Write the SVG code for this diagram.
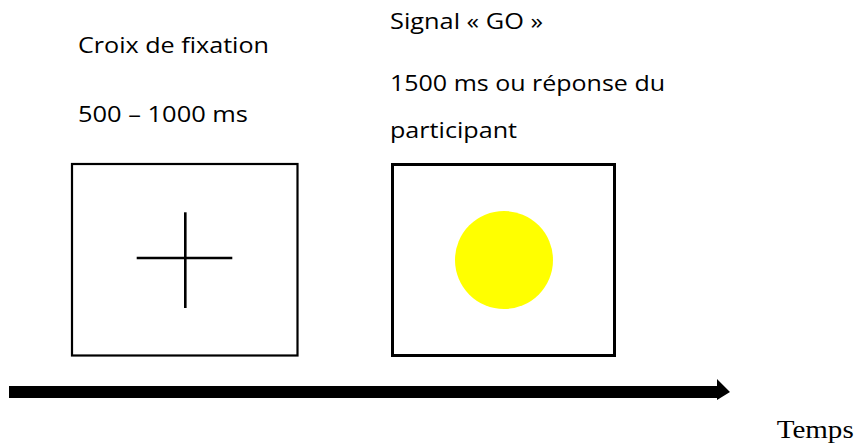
<svg xmlns="http://www.w3.org/2000/svg" width="858" height="447" viewBox="0 0 858 447">
<style>
.lbl{font-family:"Open Sans","Noto Sans",sans-serif;font-size:22px;fill:#000}
.box{fill:#fff;stroke:#000}
</style>
<rect width="858" height="447" fill="#fff"/>
<g id="fixation">
<text class="lbl" x="78" y="53.3" textLength="191" lengthAdjust="spacingAndGlyphs">Croix de fixation</text>
<text class="lbl" x="78" y="121.7" textLength="170" lengthAdjust="spacingAndGlyphs">500 – 1000 ms</text>
<rect class="box" x="72" y="164" width="225.5" height="191.5" stroke-width="2.2"/>
<line x1="136.7" y1="258" x2="232.3" y2="258" stroke="#000" stroke-width="2.6"/>
<line x1="185.3" y1="212.3" x2="185.3" y2="308" stroke="#000" stroke-width="2.6"/>
</g>
<g id="go">
<text class="lbl" x="390" y="29.3" textLength="153" lengthAdjust="spacingAndGlyphs">Signal « GO »</text>
<text class="lbl" x="390" y="91" textLength="275" lengthAdjust="spacingAndGlyphs">1500 ms ou réponse du</text>
<text class="lbl" x="390" y="137.7" textLength="127" lengthAdjust="spacingAndGlyphs">participant</text>
<rect class="box" x="392.5" y="164.5" width="222" height="191" stroke-width="3"/>
<circle cx="504" cy="260" r="49" fill="#ffff00"/>
</g>
<g id="connectors">
<polygon points="9,386 717,386 717,379 730,392 717,400 717,398 9,398" fill="#000"/>
</g>
<g id="temps">
<text x="776.7" y="437.7" font-family="Liberation Serif,serif" font-size="26" textLength="77" lengthAdjust="spacingAndGlyphs">Temps</text>
</g>
</svg>
